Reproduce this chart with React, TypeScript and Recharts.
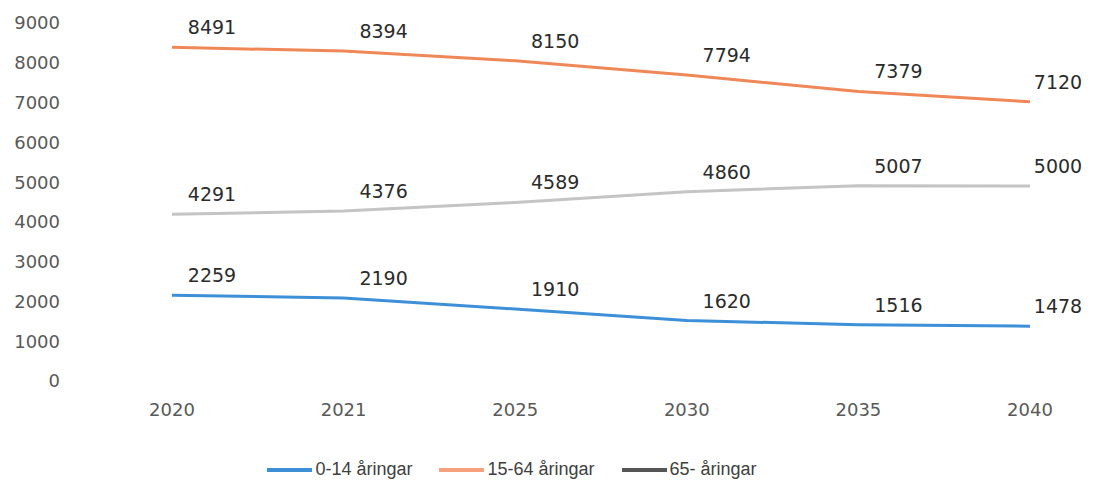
import { LineChart, Line, XAxis, YAxis, Legend, LabelList } from 'recharts'

const years = ['2020', '2021', '2025', '2030', '2035', '2040']
const children = [2259, 2190, 1910, 1620, 1516, 1478]
const working = [8491, 8394, 8150, 7794, 7379, 7120]
const elderly = [4291, 4376, 4589, 4860, 5007, 5000]
const yTicks = [0, 1000, 2000, 3000, 4000, 5000, 6000, 7000, 8000, 9000]

const seriesNames = ['0-14 åringar', '15-64 åringar', '65- åringar']

const data = years.map((y, i) => ({
  year: y,
  a: children[i],
  b: working[i],
  c: elderly[i],
}))

const numFont = 'DejaVu Sans, sans-serif'

const ValueLabel = (props: any) => {
  const { x, y, value, index } = props
  const last = index === years.length - 1
  return (
    <text
      x={x + (last ? 28 : 40)}
      y={y - 13}
      textAnchor="middle"
      fontSize={19}
      fontFamily={numFont}
      fill="#2b2b2b"
    >
      {value}
    </text>
  )
}

const legendItems = [
  { name: seriesNames[0], color: '#3d8fd8' },
  { name: seriesNames[1], color: '#f6a07d' },
  { name: seriesNames[2], color: '#555555' },
]

const LegendContent = () => (
  <div
    style={{
      display: 'flex',
      justifyContent: 'center',
      gap: 27,
      marginLeft: -60,
      fontFamily: 'Liberation Sans, Arial, sans-serif',
      fontSize: 18,
      color: '#404040',
    }}
  >
    {legendItems.map((it) => (
      <div key={it.name} style={{ display: 'flex', alignItems: 'center' }}>
        <span style={{ display: 'inline-block', width: 45, height: 4, background: it.color, marginRight: 3 }} />
        <span>{it.name}</span>
      </div>
    ))}
  </div>
)

export default function App() {
  return (
    <LineChart width={1088} height={472} data={data} margin={{ top: 19, right: 20, bottom: 0, left: 0 }}>
      <XAxis
        dataKey="year"
        axisLine={false}
        tickLine={false}
        tickSize={0}
        tickMargin={18}
        padding={{ left: 104, right: 46 }}
        height={74}
        tick={{ fontSize: 18, fill: '#595959', fontFamily: numFont }}
      />
      <YAxis
        domain={[0, 9000]}
        ticks={yTicks}
        axisLine={false}
        tickLine={false}
        tickSize={0}
        tickMargin={8}
        width={60}
        tick={{ fontSize: 18, fill: '#595959', fontFamily: numFont, dy: -4 }}
      />
      <Legend verticalAlign="bottom" content={<LegendContent />} />
      <Line
        dataKey="a"
        name={seriesNames[0]}
        stroke="#3d8fd8"
        strokeWidth={3}
        dot={false}
        isAnimationActive={false}
      >
        <LabelList dataKey="a" content={<ValueLabel />} />
      </Line>
      <Line
        dataKey="b"
        name={seriesNames[1]}
        stroke="#f08757"
        strokeWidth={3}
        dot={false}
        isAnimationActive={false}
      >
        <LabelList dataKey="b" content={<ValueLabel />} />
      </Line>
      <Line
        dataKey="c"
        name={seriesNames[2]}
        stroke="#c4c4c4"
        strokeWidth={3}
        dot={false}
        isAnimationActive={false}
      >
        <LabelList dataKey="c" content={<ValueLabel />} />
      </Line>
    </LineChart>
  )
}
